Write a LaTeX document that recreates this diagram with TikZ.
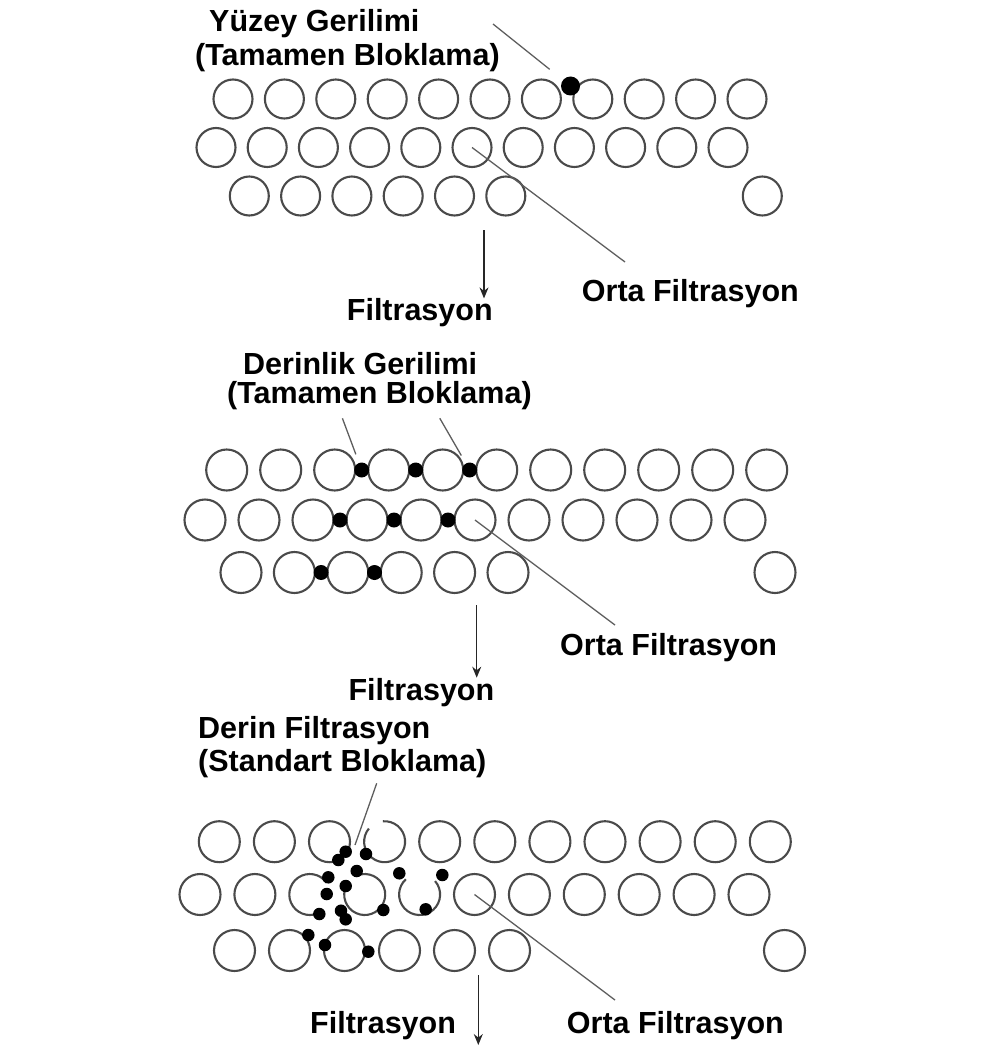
\documentclass[tikz,border=0pt]{standalone}
\usepackage{fontspec}
\setmainfont{Liberation Sans}
\usetikzlibrary{arrows.meta,calc}
\definecolor{ring}{HTML}{4A4A4A}
\definecolor{lead}{HTML}{5E5E5E}

\begin{document}
\begin{tikzpicture}[x=1pt,y=-1pt,
  grain/.style={circle,draw=ring,line width=2.1pt,inner sep=0pt,minimum size=#1},
  grain/.default=41pt,
  blob/.style={circle,fill=black,inner sep=0pt,minimum size=#1},
  leader/.style={draw=lead,line width=1.3pt},
  flow/.style={draw=black!85,line width=1.4pt,-{Stealth[length=11pt,width=9pt]}},
  lbl/.style={anchor=base west,inner sep=0pt,font=\fontsize{30.5}{34}\selectfont\bfseries}]
  \useasboundingbox (0,0) rectangle (984,1054);

  % Surface straining
  \foreach \k in {0,...,10} \node[grain=39pt] (a1-\k) at ({233+51.4*\k},99) {};
  \foreach \k in {0,...,10} \node[grain=39pt] (a2-\k) at ({216+51.2*\k},147.5) {};
  \foreach \k in {0,1,2,3,4,5,10} \node[grain=39pt] (a3-\k) at ({249.3+51.3*\k},196) {};
  \node[blob=19pt] (a-dot) at (570.5,86) {};

  \node[lbl] (a-t1) at (209,32) {Yüzey Gerilimi};
  \node[lbl] (a-t2) at (195,65.5) {(Tamamen Bloklama)};
  \coordinate (a-l) at (493,24);
  \draw[leader,shorten >=17pt] (a-l) -- (a-dot);

  \node[lbl] (a-orta) at (581.7,301.7) {Orta Filtrasyon};
  \coordinate (a-o) at (625,262);
  \draw[leader] (a2-5.center) -- (a-o);

  \node[lbl] (a-fil) at (346.7,320.7) {Filtrasyon};
  \coordinate (a-src) at (484,230);
  \draw[flow] (a-src) -- (a-src |- a-fil.north);

  % Depth straining
  \foreach \k in {0,...,10} \node[grain] (b1-\k) at ({226.7+54*\k},470) {};
  \foreach \k in {0,...,10} \node[grain] (b2-\k) at ({205+54*\k},520) {};
  \foreach \k in {0,1,2,3,4,5,10} \node[grain] (b3-\k) at ({241+53.4*\k},572.5) {};
  \foreach \r/\k in {1/2,1/3,1/4,2/2,2/3,2/4,3/1,3/2}{
    \pgfmathtruncatemacro\kn{\k+1}
    \node[blob=15pt] (b-d\r\k) at ($(b\r-\k)!0.5!(b\r-\kn)$) {};
  }

  \node[lbl] (b-t1) at (243,374) {Derinlik Gerilimi};
  \node[lbl] (b-t2) at (227,403) {(Tamamen Bloklama)};
  \coordinate (b-l1) at (342.4,418.3);
  \coordinate (b-l2) at (439.8,418.3);
  \draw[leader,shorten >=9pt] (b-l1) -- (b-d12);
  \draw[leader,shorten >=9pt] (b-l2) -- (b-d14);

  \node[lbl] (b-orta) at (560,655) {Orta Filtrasyon};
  \coordinate (b-o) at (615,625);
  \draw[leader] (b2-5.center) -- (b-o);

  \node[lbl] (b-fil) at (348.3,700) {Filtrasyon};
  \coordinate (b-src) at (476.7,605);
  \draw[flow] (b-src) -- (b-src |- b-fil.north);

  % Deep filtration
  \foreach \k in {0,1,2,4,5,6,7,8,9,10} \node[grain] (c1-\k) at ({219.3+55.1*\k},841.7) {};
  \foreach \k in {0,1,5,6,7,8,9,10} \node[grain] (c2-\k) at ({200+54.9*\k},894.5) {};
  \foreach \k in {0,1,2,3,4,5,10} \node[grain] (c3-\k) at ({234.5+55*\k},950.5) {};
  % grains broken open by the particles
  \foreach \cx/\cy/\a/\b in {384.6/841.7/140/455, 309.8/894.5/35/304,
                             364.7/894.5/155/470, 419.6/894.5/132/401}
    \draw[draw=ring,line width=2.1pt] (\cx,\cy) ++(\a:20.5pt) arc[start angle=\a,end angle=\b,radius=20.5pt];
  \foreach \p [count=\i] in {(338.3,860),(345.7,851.7),(366,854),(328.3,877.3),
      (356.7,871),(345.7,886),(326.7,894),(399.3,873.3),(442.3,875),(319.3,914),
      (341,910.7),(345.7,919.3),(383.3,910),(425.7,909.3),(308.3,935),(325,945),
      (368.3,951.7)}
    \node[blob=12.5pt] (c-d\i) at \p {};

  \node[lbl] (c-t1) at (198,738.3) {Derin Filtrasyon};
  \node[lbl] (c-t2) at (198,771) {(Standart Bloklama)};
  \coordinate (c-l) at (376.7,783.3);
  \coordinate (c-le) at (355,845);
  \draw[leader] (c-l) -- (c-le);

  \node[lbl] (c-orta) at (566.7,1033.3) {Orta Filtrasyon};
  \coordinate (c-o) at (615,1000);
  \draw[leader] (c2-5.center) -- (c-o);

  \node[lbl] (c-fil) at (310,1033.3) {Filtrasyon};
  \coordinate (c-src) at (478.3,975);
  \coordinate (c-tip) at (478.3,1045);
  \draw[flow] (c-src) -- (c-tip);
\end{tikzpicture}
\end{document}
